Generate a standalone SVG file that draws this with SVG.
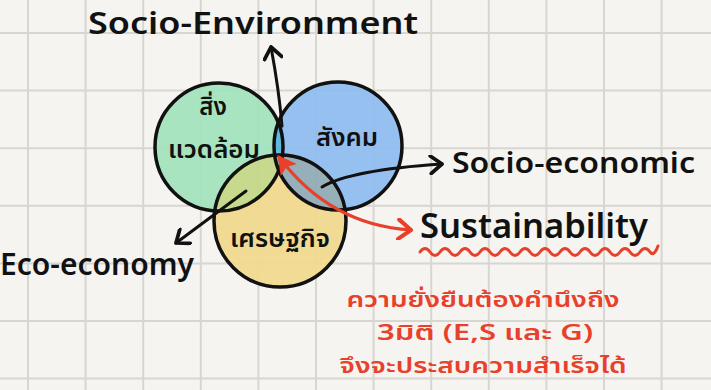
<svg xmlns="http://www.w3.org/2000/svg" width="711" height="390" viewBox="0 0 711 390">
<defs>
<style>
.grid{stroke:#d8d6d1;stroke-width:2}
.ring{fill:none;stroke:#111;stroke-width:3.5}
.lbl{font-family:"Noto Sans","Open Sans","DejaVu Sans",sans-serif;fill:#111;font-weight:600}
.th{font-family:"Noto Sans Thai","Noto Sans","Open Sans",sans-serif;fill:#111;font-weight:600}
.red{fill:#e8402a}
.con{fill:none;stroke:#111;stroke-width:3;stroke-linecap:round}
</style>
<clipPath id="cg"><circle cx="219" cy="147" r="64"/></clipPath>
<clipPath id="cb"><circle cx="338" cy="146" r="64"/></clipPath>
<marker id="ah" markerUnits="userSpaceOnUse" markerWidth="20" markerHeight="20" refX="12" refY="8" orient="auto" viewBox="0 0 16 16">
<path d="M3,1 L12,8 L3,15" fill="none" stroke="#111" stroke-width="3" stroke-linecap="round" stroke-linejoin="round"/>
</marker>
<marker id="rh" markerUnits="userSpaceOnUse" markerWidth="22" markerHeight="22" refX="12" refY="8" orient="auto" viewBox="0 0 16 16">
<path d="M3,1 L12,8 L3,15" fill="none" stroke="#e8402a" stroke-width="3" stroke-linecap="round" stroke-linejoin="round"/>
</marker>
<marker id="rt" markerUnits="userSpaceOnUse" markerWidth="20" markerHeight="20" refX="2" refY="8" orient="auto" viewBox="0 0 16 16">
<path d="M0,8 L15,0 L12,8 L15,16 Z" fill="#e8402a"/>
</marker>
</defs>
<rect width="711" height="390" fill="#f5f4f0"/>
<g id="grid">
<line class="grid" x1="28" y1="0" x2="28" y2="390"/>
<line class="grid" x1="85.6" y1="0" x2="85.6" y2="390"/>
<line class="grid" x1="143.2" y1="0" x2="143.2" y2="390"/>
<line class="grid" x1="200.8" y1="0" x2="200.8" y2="390"/>
<line class="grid" x1="258.4" y1="0" x2="258.4" y2="390"/>
<line class="grid" x1="316" y1="0" x2="316" y2="390"/>
<line class="grid" x1="373.6" y1="0" x2="373.6" y2="390"/>
<line class="grid" x1="431.2" y1="0" x2="431.2" y2="390"/>
<line class="grid" x1="488.8" y1="0" x2="488.8" y2="390"/>
<line class="grid" x1="546.4" y1="0" x2="546.4" y2="390"/>
<line class="grid" x1="604" y1="0" x2="604" y2="390"/>
<line class="grid" x1="661.6" y1="0" x2="661.6" y2="390"/>
<line class="grid" x1="0" y1="33" x2="711" y2="33"/>
<line class="grid" x1="0" y1="90.6" x2="711" y2="90.6"/>
<line class="grid" x1="0" y1="148.2" x2="711" y2="148.2"/>
<line class="grid" x1="0" y1="205.8" x2="711" y2="205.8"/>
<line class="grid" x1="0" y1="263.4" x2="711" y2="263.4"/>
<line class="grid" x1="0" y1="321" x2="711" y2="321"/>
<line class="grid" x1="0" y1="378.6" x2="711" y2="378.6"/>
</g>
<g id="fills" opacity="0.93">
<circle cx="219" cy="147" r="64" fill="#a3e3bd"/>
<circle cx="338" cy="146" r="64" fill="#8fbdf0"/>
<circle cx="280" cy="221" r="66" fill="#f1d98e"/>
<circle cx="338" cy="146" r="64" fill="#55b6dc" clip-path="url(#cg)"/>
<circle cx="280" cy="221" r="66" fill="#c3d885" clip-path="url(#cg)"/>
<circle cx="280" cy="221" r="66" fill="#8faab5" clip-path="url(#cb)"/>
</g>
<g id="n-environment">
<circle class="ring" cx="219" cy="147" r="64"/>
<text class="th" x="213" y="115" font-size="24" text-anchor="middle">สิ่ง</text>
<text class="th" x="214" y="158" font-size="24" text-anchor="middle" textLength="92" lengthAdjust="spacingAndGlyphs">แวดล้อม</text>
</g>
<g id="n-society">
<circle class="ring" cx="338" cy="146" r="64"/>
<text class="th" x="347" y="146" font-size="24" text-anchor="middle" textLength="62" lengthAdjust="spacingAndGlyphs">สังคม</text>
</g>
<g id="n-economy">
<circle class="ring" cx="280" cy="221" r="66"/>
<text class="th" x="280" y="247" font-size="24" text-anchor="middle" textLength="100" lengthAdjust="spacingAndGlyphs">เศรษฐกิจ</text>
</g>
<g id="connectors">
<path class="con" d="M282,126 Q279,90 271,47" marker-end="url(#ah)"/>
<path class="con" d="M246,191 L176,243" marker-end="url(#ah)"/>
<path class="con" d="M322,187 Q350,170 442,164" marker-end="url(#ah)"/>
<path d="M279,157 Q330,225 411,230" fill="none" stroke="#e8402a" stroke-width="3" stroke-linecap="round" marker-start="url(#rt)" marker-end="url(#rh)"/>
</g>
<g id="labels">
<text class="lbl" x="88" y="34" font-size="31" textLength="330" lengthAdjust="spacingAndGlyphs">Socio-Environment</text>
<text class="lbl" x="452" y="173" font-size="29" textLength="243" lengthAdjust="spacingAndGlyphs">Socio-economic</text>
<text class="lbl" x="0" y="275" font-size="31" textLength="194" lengthAdjust="spacingAndGlyphs">Eco-economy</text>
<text class="lbl" x="420" y="238" font-size="35" textLength="228" lengthAdjust="spacingAndGlyphs">Sustainability</text>
<path d="M420,252 q5,-7 10,0 q5,7 10,0 q5,-7 10,0 q5,7 10,0 q5,-7 10,0 q5,7 10,0 q5,-7 10,0 q5,7 10,0 q5,-7 10,0 q5,7 10,0 q5,-7 10,0 q5,7 10,0 q5,-7 10,0 q5,7 10,0 q5,-7 10,0 q5,7 10,0 q5,-7 10,0 q5,7 10,0 q5,-7 10,0 q5,7 10,0 q5,-7 10,0 q5,7 10,0 q5,-7 10,0 q4,5 8,-6" fill="none" stroke="#e8402a" stroke-width="3" stroke-linecap="round"/>
</g>
<g id="note" class="th">
<text class="red" x="483" y="307" font-size="21" text-anchor="middle" textLength="273" lengthAdjust="spacingAndGlyphs">ความยั่งยืนต้องคำนึงถึง</text>
<text class="red" x="485" y="340" font-size="21" text-anchor="middle" textLength="216" lengthAdjust="spacingAndGlyphs">3มิติ (E,S และ G)</text>
<text class="red" x="483" y="373" font-size="21" text-anchor="middle" textLength="287" lengthAdjust="spacingAndGlyphs">จึงจะประสบความสำเร็จได้</text>
</g>
</svg>
